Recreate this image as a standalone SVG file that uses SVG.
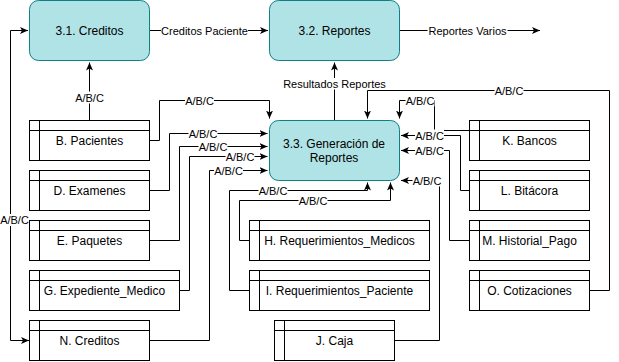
<svg xmlns="http://www.w3.org/2000/svg" width="619" height="362" viewBox="0 0 619 362">
  <style>
    .proc { fill: #b0e3e6; stroke: #0e8088; stroke-width: 1; }
    .store { fill: #ffffff; stroke: #000000; stroke-width: 1; }
    .inner { fill: none; stroke: #000000; stroke-width: 1; }
    .edge { fill: none; stroke: #000000; stroke-width: 1; }
    .arrow-end { marker-end: url(#arrow); }
    .lbl-bg { fill: #ffffff; stroke: none; }
    text { font-family: "Liberation Sans", Arial, Helvetica, sans-serif; fill: #000000; text-anchor: middle; }
    .t12 { font-size: 12px; }
    .t11 { font-size: 11px; }
  </style>
  <defs>
    <marker id="arrow" markerUnits="userSpaceOnUse" markerWidth="10" markerHeight="10" refX="8" refY="4" orient="auto-start-reverse">
      <path d="M0,0.5 L8,4 L0,7.5 L2,4 Z" fill="#000000"/>
    </marker>
  </defs>

  <!-- connectors: lines first, labels on top -->
  <g id="connectors">
    <g id="connector-lines">
      <!-- 3.1 -> 3.2 -->
      <path class="edge arrow-end" d="M149.5,30.5 H268"/>
      <!-- 3.2 -> out -->
      <path class="edge arrow-end" d="M399.5,30.5 H540"/>
      <!-- N. Creditos <-> 3.1 -->
      <path class="edge arrow-end" style="marker-start:url(#arrow)" d="M29,340.5 H10.5 V30.5 H28"/>
      <!-- B. Pacientes -> 3.1 -->
      <path class="edge arrow-end" d="M89.5,120.5 V62.5"/>
      <!-- 3.3 -> 3.2 -->
      <path class="edge arrow-end" d="M334.5,120.5 V62.5"/>
      <!-- stores on the left -> 3.3 -->
      <path class="edge arrow-end" d="M149.5,140.5 H159.5 V100.5 H269.5 V118.5"/>
      <path class="edge arrow-end" d="M149.5,190.5 H169.5 V133.5 H267.5"/>
      <path class="edge arrow-end" d="M149.5,240.5 H179.5 V146.5 H267.5"/>
      <path class="edge arrow-end" d="M179.5,290.5 H189.5 V156.5 H267.5"/>
      <path class="edge arrow-end" d="M149.5,340.5 H209.5 V170.5 H267.5"/>
      <!-- stores below -> 3.3 -->
      <path class="edge arrow-end" d="M249.5,290.5 H229.5 V190.5 H367.5 V182.5"/>
      <path class="edge arrow-end" d="M249.5,240.5 H239.5 V200.5 H390.5 V182.5"/>
      <path class="edge arrow-end" d="M394.5,340.5 H439.5 V180.5 H401"/>
      <!-- stores on the right -> 3.3 -->
      <path class="edge arrow-end" d="M469.5,130.5 H434.5 V100.5 H399.5 V118.5"/>
      <path class="edge arrow-end" d="M469.5,190.5 H460.5 V135.5 H401"/>
      <path class="edge arrow-end" d="M469.5,240.5 H449.5 V150.5 H401"/>
      <path class="edge arrow-end" d="M589.5,290.5 H609.5 V90.5 H367.5 V118.5"/>
    </g>
    <g id="connector-labels">
      <rect class="lbl-bg" x="161" y="24.5" width="87" height="12"/>
      <text class="t11" x="204.5" y="34.5">Creditos Paciente</text>
      <rect class="lbl-bg" x="427.5" y="24.5" width="80" height="12"/>
      <text class="t11" x="467.5" y="34.5">Reportes Varios</text>
      <rect class="lbl-bg" x="0.5" y="214" width="28" height="12"/>
      <text class="t11" x="14.5" y="224">A/B/C</text>
      <rect class="lbl-bg" x="75" y="91.5" width="29" height="12"/>
      <text class="t11" x="89.5" y="101.5">A/B/C</text>
      <rect class="lbl-bg" x="283" y="78" width="103" height="11.5"/>
      <text class="t11" x="334.5" y="88">Resultados Reportes</text>
      <rect class="lbl-bg" x="185" y="94.5" width="29" height="12"/>
      <text class="t11" x="199.5" y="104.5">A/B/C</text>
      <rect class="lbl-bg" x="188.5" y="127.5" width="29" height="12"/>
      <text class="t11" x="203" y="137.5">A/B/C</text>
      <rect class="lbl-bg" x="198.5" y="140.5" width="29" height="12"/>
      <text class="t11" x="213" y="150.5">A/B/C</text>
      <rect class="lbl-bg" x="225.5" y="150.5" width="29" height="12"/>
      <text class="t11" x="240" y="160.5">A/B/C</text>
      <rect class="lbl-bg" x="214" y="164.5" width="29" height="12"/>
      <text class="t11" x="228.5" y="174.5">A/B/C</text>
      <rect class="lbl-bg" x="258.5" y="184.5" width="29" height="12"/>
      <text class="t11" x="273" y="194.5">A/B/C</text>
      <rect class="lbl-bg" x="298.5" y="195" width="29" height="12"/>
      <text class="t11" x="313" y="205">A/B/C</text>
      <rect class="lbl-bg" x="412.5" y="174.5" width="29" height="12"/>
      <text class="t11" x="427" y="184.5">A/B/C</text>
      <rect class="lbl-bg" x="405.5" y="94.5" width="29" height="12"/>
      <text class="t11" x="420" y="104.5">A/B/C</text>
      <rect class="lbl-bg" x="415" y="129.5" width="29" height="12"/>
      <text class="t11" x="429.5" y="139.5">A/B/C</text>
      <rect class="lbl-bg" x="415" y="144.5" width="29" height="12"/>
      <text class="t11" x="429.5" y="154.5">A/B/C</text>
      <rect class="lbl-bg" x="494.5" y="84.5" width="29" height="12"/>
      <text class="t11" x="509" y="94.5">A/B/C</text>
    </g>
  </g>

  <!-- processes -->
  <g id="p-3-1">
    <rect class="proc" x="29.5" y="0.5" width="120" height="60" rx="9" ry="9"/>
    <text class="t12" x="89.5" y="34.5">3.1. Creditos</text>
  </g>
  <g id="p-3-2">
    <rect class="proc" x="269.5" y="0.5" width="130" height="60" rx="9" ry="9"/>
    <text class="t12" x="334.5" y="34.5">3.2. Reportes</text>
  </g>
  <g id="p-3-3">
    <rect class="proc" x="269.5" y="120.5" width="130" height="60" rx="9" ry="9"/>
    <text class="t12" x="334" y="147.5">3.3. Generación de</text>
    <text class="t12" x="334" y="161.5">Reportes</text>
  </g>

  <!-- data stores -->
  <g id="s-b-pacientes">
    <rect class="store" x="29.5" y="120.5" width="120" height="40"/>
    <path class="inner" d="M29.5,130.5 H149.5 M39.5,120.5 V160.5"/>
    <text class="t12" x="89.5" y="144.5">B. Pacientes</text>
  </g>
  <g id="s-d-examenes">
    <rect class="store" x="29.5" y="170.5" width="120" height="40"/>
    <path class="inner" d="M29.5,180.5 H149.5 M39.5,170.5 V210.5"/>
    <text class="t12" x="89.5" y="194.5">D. Examenes</text>
  </g>
  <g id="s-e-paquetes">
    <rect class="store" x="29.5" y="220.5" width="120" height="40"/>
    <path class="inner" d="M29.5,230.5 H149.5 M39.5,220.5 V260.5"/>
    <text class="t12" x="89.5" y="244.5">E. Paquetes</text>
  </g>
  <g id="s-g-expediente">
    <rect class="store" x="29.5" y="270.5" width="150" height="40"/>
    <path class="inner" d="M29.5,280.5 H179.5 M39.5,270.5 V310.5"/>
    <text class="t12" x="104.5" y="294.5">G. Expediente_Medico</text>
  </g>
  <g id="s-n-creditos">
    <rect class="store" x="29.5" y="320.5" width="120" height="40"/>
    <path class="inner" d="M29.5,330.5 H149.5 M39.5,320.5 V360.5"/>
    <text class="t12" x="89.5" y="344.5">N. Creditos</text>
  </g>
  <g id="s-h-req-medicos">
    <rect class="store" x="249.5" y="220.5" width="180" height="40"/>
    <path class="inner" d="M249.5,230.5 H429.5 M259.5,220.5 V260.5"/>
    <text class="t12" x="339.5" y="244.5">H. Requerimientos_Medicos</text>
  </g>
  <g id="s-i-req-paciente">
    <rect class="store" x="249.5" y="270.5" width="180" height="40"/>
    <path class="inner" d="M249.5,280.5 H429.5 M259.5,270.5 V310.5"/>
    <text class="t12" x="339.5" y="294.5">I. Requerimientos_Paciente</text>
  </g>
  <g id="s-j-caja">
    <rect class="store" x="274.5" y="320.5" width="120" height="40"/>
    <path class="inner" d="M274.5,330.5 H394.5 M284.5,320.5 V360.5"/>
    <text class="t12" x="334.5" y="344.5">J. Caja</text>
  </g>
  <g id="s-k-bancos">
    <rect class="store" x="469.5" y="120.5" width="120" height="40"/>
    <path class="inner" d="M469.5,130.5 H589.5 M479.5,120.5 V160.5"/>
    <text class="t12" x="529.5" y="144.5">K. Bancos</text>
  </g>
  <g id="s-l-bitacora">
    <rect class="store" x="469.5" y="170.5" width="120" height="40"/>
    <path class="inner" d="M469.5,180.5 H589.5 M479.5,170.5 V210.5"/>
    <text class="t12" x="529.5" y="194.5">L. Bitácora</text>
  </g>
  <g id="s-m-historial">
    <rect class="store" x="469.5" y="220.5" width="120" height="40"/>
    <path class="inner" d="M469.5,230.5 H589.5 M479.5,220.5 V260.5"/>
    <text class="t12" x="529.5" y="244.5">M. Historial_Pago</text>
  </g>
  <g id="s-o-cotizaciones">
    <rect class="store" x="469.5" y="270.5" width="120" height="40"/>
    <path class="inner" d="M469.5,280.5 H589.5 M479.5,270.5 V310.5"/>
    <text class="t12" x="529.5" y="294.5">O. Cotizaciones</text>
  </g>
</svg>
